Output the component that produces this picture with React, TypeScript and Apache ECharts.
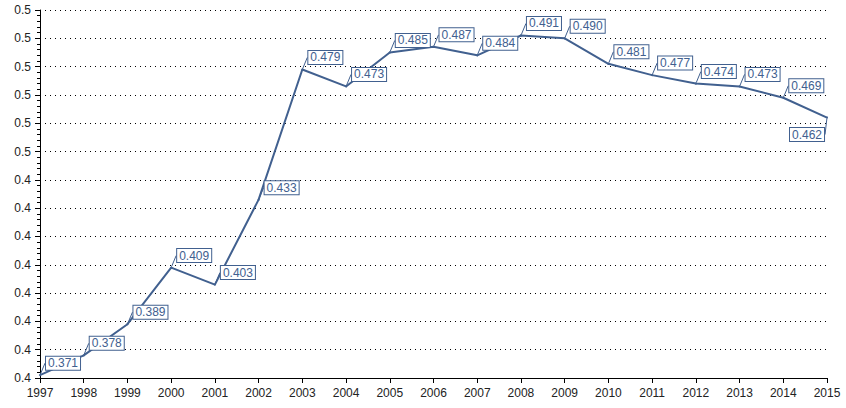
import React, { useEffect, useRef } from "react";
import * as echarts from "echarts";

const years = ["1997","1998","1999","2000","2001","2002","2003","2004","2005","2006","2007","2008","2009","2010","2011","2012","2013","2014","2015"];
const values = [0.371,0.378,0.389,0.409,0.403,0.433,0.479,0.473,0.485,0.487,0.484,0.491,0.490,0.481,0.477,0.474,0.473,0.469,0.462];
const yMin = 0.37;
const yMax = 0.5;
const yInterval = 0.01;

const LINE = "#41608f";

export default function App() {
  const ref = useRef<HTMLDivElement>(null);
  useEffect(() => {
    document.body.style.margin = "0";
    if (!ref.current) return;
    const chart = echarts.init(ref.current, undefined, { renderer: "svg" });
    const last = values.length - 1;
    chart.setOption({
      animation: false,
      grid: { left: 40, right: 19, top: 10, bottom: 30, containLabel: false },
      xAxis: {
        type: "category",
        data: years,
        boundaryGap: false,
        axisLine: { lineStyle: { color: "#000", width: 1 } },
        axisTick: { show: true, length: 5, lineStyle: { color: "#000" } },
        axisLabel: { color: "#222", fontSize: 12, fontFamily: "Liberation Sans, Arial", margin: 9 },
        splitLine: { show: false },
      },
      yAxis: {
        type: "value",
        min: yMin,
        max: yMax,
        interval: yInterval,
        axisLine: { show: true, lineStyle: { color: "#000", width: 1 } },
        axisTick: { show: true, length: 5, lineStyle: { color: "#000" } },
        minorTick: { show: true, splitNumber: 5, length: 3, lineStyle: { color: "#000" } },
        axisLabel: {
          color: "#222",
          fontSize: 12,
          fontFamily: "Liberation Sans, Arial",
          margin: 9,
          formatter: (v: number) => v.toFixed(1),
        },
        splitLine: { show: true, lineStyle: { color: "#000", type: [1, 4], width: 1 } },
      },
      series: [
        {
          type: "line",
          data: values,
          symbol: "circle",
          symbolSize: 2,
          showSymbol: true,
          itemStyle: { color: LINE },
          lineStyle: { color: LINE, width: 2 },
          label: {
            show: true,
            position: "right",
            distance: 5,
            formatter: (p: any) => (p.value as number).toFixed(3),
            color: LINE,
            fontSize: 12,
            fontFamily: "Liberation Sans, Arial",
            backgroundColor: "#fff",
            borderColor: LINE,
            borderWidth: 1,
            padding: [1, 2, 0, 2],
          },
          labelLine: { show: true, lineStyle: { color: LINE, width: 1 } },
          labelLayout: (p: any) =>
            p.dataIndex === last ? { dx: -43, dy: 17 } : { dx: 0, dy: -12 },
        },
      ],
    });
    return () => chart.dispose();
  }, []);
  return <div ref={ref} style={{ width: 846, height: 408 }} />;
}
